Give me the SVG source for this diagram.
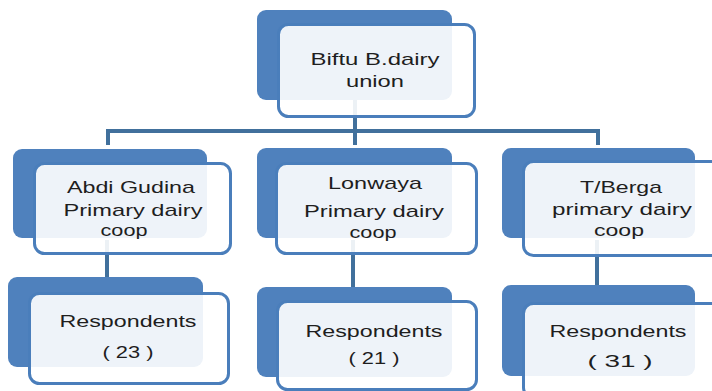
<svg xmlns="http://www.w3.org/2000/svg" width="712" height="391" viewBox="0 0 712 391">
<style>
.dk{fill:#4f81bd}
.lt{fill:#ffffff;fill-opacity:0.9;stroke:#4a7ebb;stroke-width:3}
.cn{fill:none;stroke:#41709c;stroke-width:4}
text{font-family:"Liberation Sans",Arial,sans-serif;font-size:17px;fill:#1e1e1e;text-anchor:middle}
</style>
<rect width="712" height="391" fill="#ffffff"/>
<g id="connectors">
<path class="cn" d="M355 90V131M108 145V131H598V145M355 131V145"/>
<path class="cn" d="M107 240V280"/>
<path class="cn" d="M353 240V290"/>
<path class="cn" d="M597 240V288"/>
</g>
<g id="n-union">
<rect class="dk" x="257" y="10" width="195" height="90" rx="9"/>
<rect class="lt" x="278.5" y="24.5" width="196" height="92" rx="10"/>
<text x="375" y="65" textLength="129" lengthAdjust="spacingAndGlyphs">Biftu B.dairy</text>
<text x="375" y="87" textLength="58" lengthAdjust="spacingAndGlyphs">union</text>
</g>
<g id="n-abdi">
<rect class="dk" x="13" y="149" width="194" height="89" rx="9"/>
<rect class="lt" x="34.5" y="163.5" width="196" height="90" rx="10"/>
<text x="131" y="193" textLength="128" lengthAdjust="spacingAndGlyphs">Abdi Gudina</text>
<text x="133" y="215.5" textLength="139" lengthAdjust="spacingAndGlyphs">Primary dairy</text>
<text x="124" y="236" textLength="47" lengthAdjust="spacingAndGlyphs">coop</text>
</g>
<g id="n-lonwaya">
<rect class="dk" x="257" y="148" width="195" height="90" rx="9"/>
<rect class="lt" x="276.5" y="163.5" width="200" height="90" rx="10"/>
<text x="375" y="189" textLength="94" lengthAdjust="spacingAndGlyphs">Lonwaya</text>
<text x="374" y="217" textLength="140" lengthAdjust="spacingAndGlyphs">Primary dairy</text>
<text x="373" y="237.5" textLength="47" lengthAdjust="spacingAndGlyphs">coop</text>
</g>
<g id="n-tberga">
<rect class="dk" x="502" y="148" width="193" height="90" rx="9"/>
<rect class="lt" x="523.5" y="161.5" width="198" height="94" rx="10"/>
<text x="621" y="193" textLength="82" lengthAdjust="spacingAndGlyphs">T/Berga</text>
<text x="622" y="215" textLength="140" lengthAdjust="spacingAndGlyphs">primary dairy</text>
<text x="619" y="236" textLength="50" lengthAdjust="spacingAndGlyphs">coop</text>
</g>
<g id="n-resp23">
<rect class="dk" x="8" y="277" width="195" height="90" rx="9"/>
<rect class="lt" x="29.5" y="293.5" width="199" height="90" rx="10"/>
<text x="128" y="327" textLength="137" lengthAdjust="spacingAndGlyphs">Respondents</text>
<text x="128" y="358" textLength="51" lengthAdjust="spacingAndGlyphs">( 23 )</text>
</g>
<g id="n-resp21">
<rect class="dk" x="257" y="287" width="195" height="90" rx="9"/>
<rect class="lt" x="277.5" y="301.5" width="199" height="88" rx="10"/>
<text x="374" y="337" textLength="137" lengthAdjust="spacingAndGlyphs">Respondents</text>
<text x="374" y="364" textLength="51" lengthAdjust="spacingAndGlyphs">( 21 )</text>
</g>
<g id="n-resp31">
<rect class="dk" x="502" y="285" width="193" height="91" rx="9"/>
<rect class="lt" x="523.5" y="303.5" width="198" height="94" rx="10"/>
<text x="618" y="337" textLength="137" lengthAdjust="spacingAndGlyphs">Respondents</text>
<text x="620" y="367" textLength="65" lengthAdjust="spacingAndGlyphs">(  31  )</text>
</g>
</svg>
